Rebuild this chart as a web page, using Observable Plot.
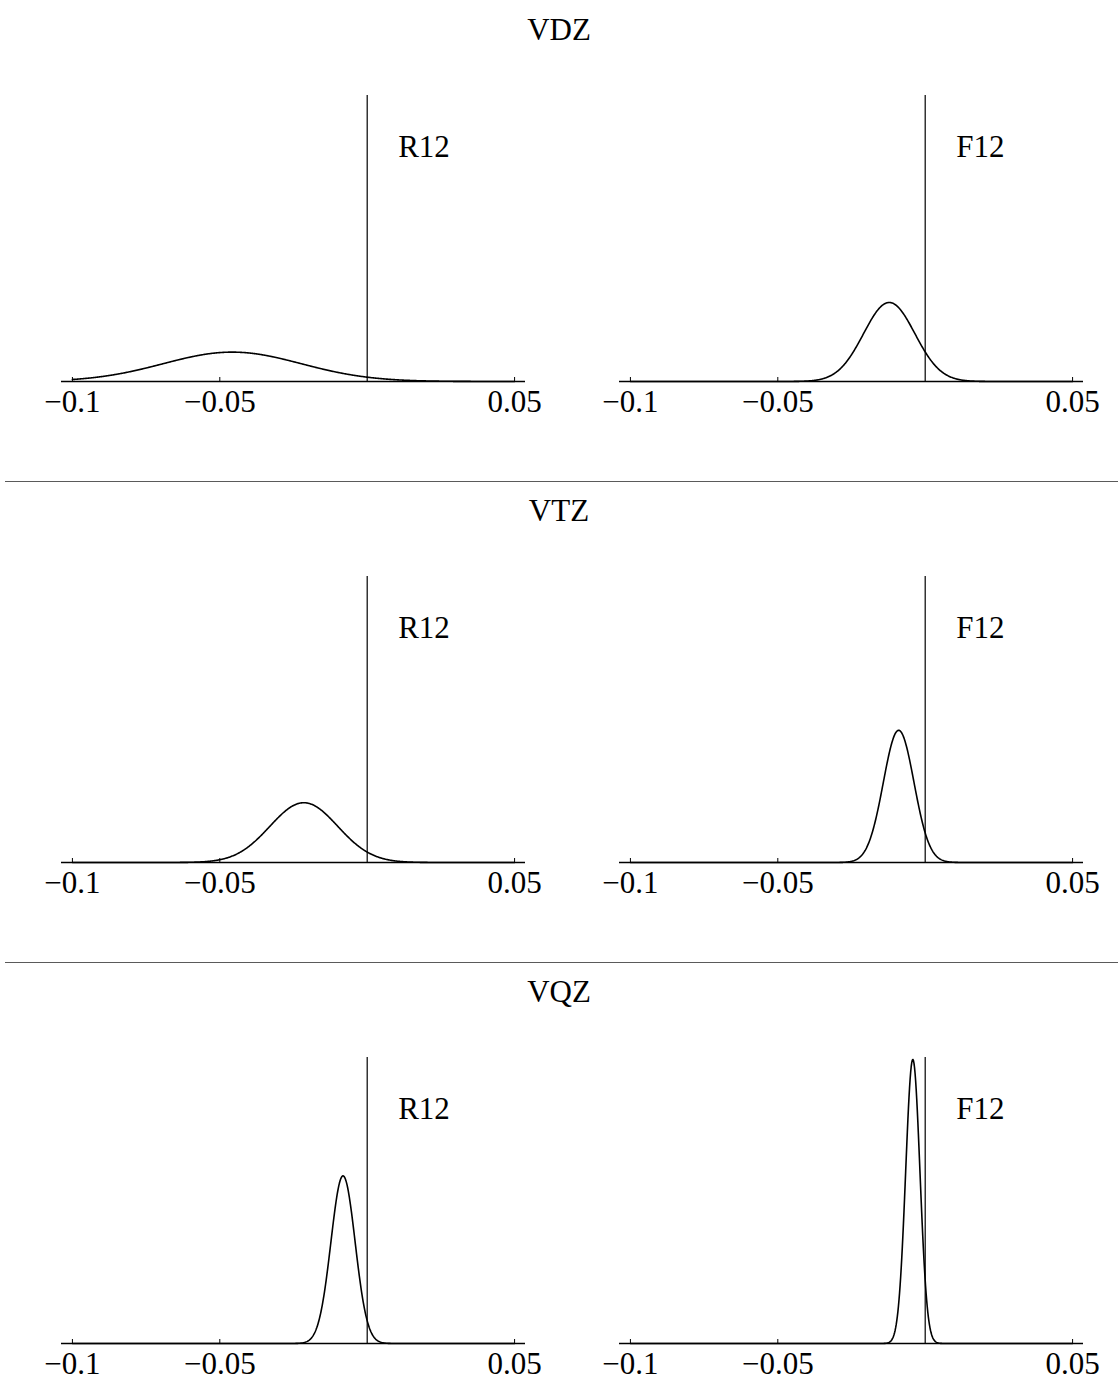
<!DOCTYPE html>
<html>
<head>
<meta charset="utf-8">
<script src="https://cdn.jsdelivr.net/npm/d3@7"></script>
<script src="https://cdn.jsdelivr.net/npm/@observablehq/plot@0.6"></script>
<style>
  html, body { margin: 0; padding: 0; background: #fff; }
  #page { position: relative; width: 1118px; height: 1381px; overflow: hidden; font-family: "Liberation Serif", "Times New Roman", serif; }
  .title { position: absolute; left: 0; width: 1118px; text-align: center; font-size: 31px; line-height: 31px; color: #000; }
  .sep { position: absolute; left: 5px; width: 1113px; height: 0; border-top: 1.5px solid #5a5a5a; }
  .panel { position: absolute; }
  svg text { font-family: "Liberation Serif", "Times New Roman", serif !important; }
</style>
</head>
<body>
<div id="page"></div>
<script>
// ---- data ----
const basisSets = ["VDZ", "VTZ", "VQZ"];
const methods = ["R12", "F12"];
// centre (mean) and spread (standard deviation) of each error distribution
const meanR12 = [-0.0458, -0.0215, -0.0082];
const sdR12   = [0.0234, 0.0115, 0.0041];
const meanF12 = [-0.0122, -0.0090, -0.0042];
const sdF12   = [0.0087, 0.0052, 0.00242];
const xTicks = [-0.1, -0.05, 0.05];
const xDomain = [-0.1037, 0.0537];
const curveRange = [-0.1, 0.05];
const yMax = 166;

const page = document.getElementById("page");
const font = '"Liberation Serif", "Times New Roman", serif';

function density(m, s, n = 800) {
  const pts = [];
  for (let i = 0; i <= n; i++) {
    const x = curveRange[0] + (curveRange[1] - curveRange[0]) * i / n;
    const y = Math.exp(-((x - m) ** 2) / (2 * s * s)) / (s * Math.sqrt(2 * Math.PI));
    pts.push({x, y});
  }
  return pts;
}

const rowTop = [60, 541, 1022];
const titleTop = [14, 495, 976];
const sepTop = [481, 962];

basisSets.forEach((b, r) => {
  const t = document.createElement("div");
  t.className = "title";
  t.style.top = titleTop[r] + "px";
  t.textContent = b;
  page.appendChild(t);

  methods.forEach((meth, c) => {
    const m = c === 0 ? meanR12[r] : meanF12[r];
    const s = c === 0 ? sdR12[r] : sdF12[r];
    const chart = Plot.plot({
      width: 559,
      height: 359,
      marginLeft: c === 0 ? 61 : 60,
      marginRight: c === 0 ? 34 : 35,
      marginTop: 35,
      marginBottom: 38,
      style: {fontFamily: font, fontSize: "31px", background: "transparent", color: "#000", overflow: "visible"},
      x: {domain: xDomain, label: null},
      y: {domain: [0, yMax], axis: null, label: null},
      marks: [
        Plot.axisX({ticks: xTicks, tickSize: 0, tickPadding: 8, fontSize: 31, label: null,
          fontFamily: font,
          tickFormat: d => (d < 0 ? "\u2212" : "") + String(Math.abs(d))}),
        Plot.tickX(xTicks, {x: d => d, insetTop: 282, stroke: "#000", strokeWidth: 1}),
        Plot.ruleY([0], {stroke: "#000", strokeWidth: 1.3}),
        Plot.ruleX([0], {stroke: "#000", strokeWidth: 1.2}),
        Plot.line(density(m, s), {x: "x", y: "y", stroke: "#000", strokeWidth: 1.6}),
        Plot.text([meth], {x: () => 0.0105, y: () => 130.5, text: d => d, textAnchor: "start",
          lineAnchor: "bottom", fontSize: 31, fontFamily: font, fill: "#000"})
      ]
    });
    chart.classList.add("panel");
    chart.style.left = (c === 0 ? 0 : 559) + "px";
    chart.style.top = rowTop[r] + "px";
    page.appendChild(chart);
  });
});

sepTop.forEach(y => {
  const d = document.createElement("div");
  d.className = "sep";
  d.style.top = y + "px";
  page.appendChild(d);
});
</script>
</body>
</html>
